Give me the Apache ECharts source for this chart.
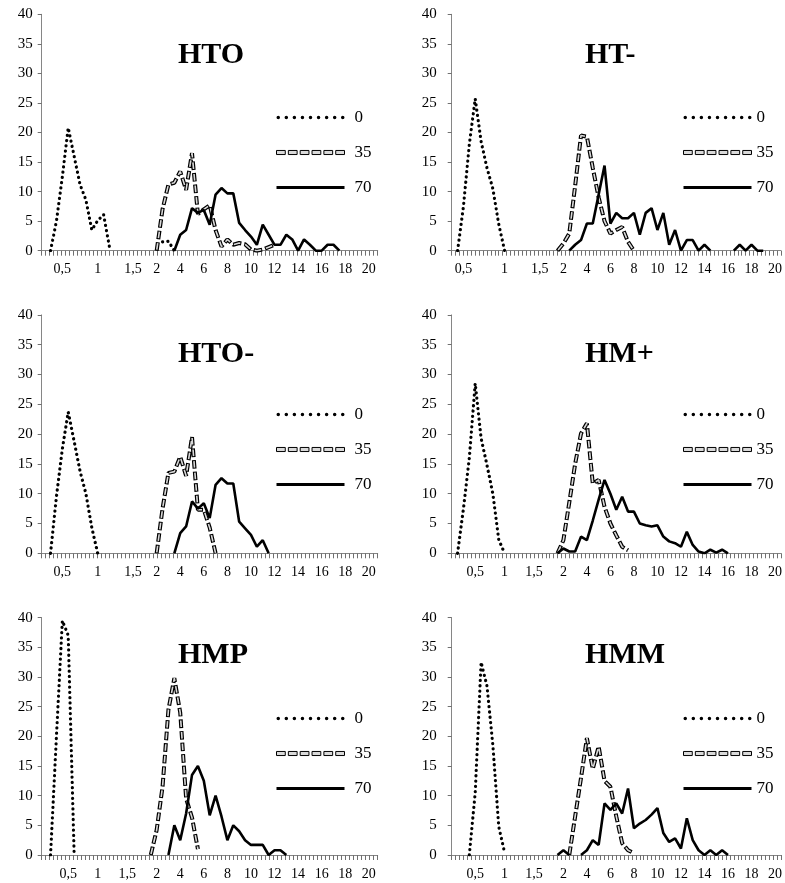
<!DOCTYPE html>
<html>
<head>
<meta charset="utf-8">
<title>HTO HT- HTO- HM+ HMP HMM</title>
<script src="https://cdn.jsdelivr.net/npm/echarts@6/dist/echarts.min.js"></script>
<style>
  html, body { margin: 0; padding: 0; background: #fff; }
  #chart { width: 785px; height: 883px; }
</style>
</head>
<body>
<div id="chart"></div>
<script>
// size classes on the x axis: 0,1 steps up to 2, then 0,5 steps
const sizes = ['0,1', '0,2', '0,3', '0,4', '0,5', '0,6', '0,7', '0,8', '0,9', '1', '1,1', '1,2', '1,3', '1,4', '1,5', '1,6', '1,7', '1,8', '1,9',
    '2', '2,5', '3', '3,5', '4', '4,5', '5', '5,5', '6', '6,5', '7', '7,5', '8', '8,5', '9', '9,5', '10', '10,5',
    '11', '11,5', '12', '12,5', '13', '13,5', '14', '14,5', '15', '15,5', '16', '16,5', '17', '17,5', '18', '18,5',
    '19', '19,5', '20', '20,5'];

const tickLabels = ['0,5', '1', '1,5', '2', '4', '6', '8', '10', '12', '14', '16', '18', '20'];
const majorTickAt = [19, 23, 27, 31, 35, 39, 43, 47, 51, 55];

// put runs of values at their category index, null elsewhere
function place(...parts) {
    const out = new Array(sizes.length).fill(null);
    for (let p = 0; p < parts.length; p += 2) {
        parts[p + 1].forEach((v, k) => (out[parts[p] + k] = v));
    }
    return out;
}

const HTO_0 = place(1, [0, 5, 12.5, 20.8, 16, 11.2, 8.6, 3.5, 5.1, 6.1, 0.6], 20, [1.5, 1.6, 0]);
const HTO_35 = place(19, [0, 7, 11.2, 11.5, 13.4, 10.3, 16.5, 6.2, 7, 7.7, 3.5, 0.7, 1.9, 1, 1.3, 1.1, 0.2, 0, 0.2, 0.6, 1]);
const HTO_70 = place(22, [0, 2.7, 3.5, 7.2, 6.4, 6.9, 4.4, 9.5, 10.6, 9.7, 9.7, 4.7, 3.5, 2.4, 1, 4.4, 2.7, 1, 1, 2.7, 1.9, 0, 1.9, 1, 0, 0, 1, 1, 0]);

const HT_0 = place(1, [0, 7.5, 18, 25.7, 18.5, 14, 10.5, 4.5, 0]);
const HT_35 = place(18, [0, 1.2, 2.9, 11, 19.5, 19.3, 14, 9, 5, 2.9, 3.5, 4, 1.5, 0]);
const HT_70 = place(20, [0, 1, 1.8, 4.6, 4.6, 9.5, 14.4, 4.6, 6.4, 5.5, 5.5, 6.4, 2.7, 6.4, 7.2, 3.5, 6.4, 1, 3.5, 0, 1.8, 1.8, 0, 1, 0], 48, [0, 1, 0, 1, 0, 0]);

const HTOm_0 = place(1, [0, 9.5, 17.5, 23.7, 18.8, 13.8, 10, 4.3, 0]);
const HTOm_35 = place(19, [0, 7.5, 13.5, 13.7, 16.2, 13, 19.5, 7.3, 7.3, 4.3, 0]);
const HTOm_70 = place(22, [0, 3.4, 4.5, 8.7, 7.5, 8.4, 5.9, 11.5, 12.6, 11.7, 11.7, 5.3, 4.2, 3.1, 1.1, 2.2, 0]);

const HMp_0 = place(1, [0, 7.5, 16, 28.5, 19.3, 14.8, 10, 2.3, 0]);
const HMp_35 = place(18, [0, 2.2, 8.5, 15, 20.1, 21.8, 11.7, 12.3, 7.8, 5, 3, 1.1, 0.5]);
const HMp_70 = place(18, [0, 0.8, 0.3, 0.3, 2.8, 2.2, 5.5, 9, 12.3, 10, 7.3, 9.5, 7, 7, 5, 4.7, 4.5, 4.7, 2.8, 2, 1.7, 1.1, 3.6, 1.4, 0.3, 0, 0.6, 0.1, 0.6, 0]);

const HMP_0 = place(1, [0, 20, 39.5, 37, 0.3]);
const HMP_35 = place(18, [0, 4.2, 11.5, 24.5, 29.8, 24, 9.5, 6.3, 1]);
const HMP_70 = place(21, [0, 5, 2.5, 7, 13.5, 15, 12.5, 6.7, 10, 6.5, 2.5, 5, 4, 2.5, 1.7, 1.7, 1.7, 0, 0.8, 0.8, 0]);

const HMM_0 = place(3, [0, 10.5, 32.5, 28.5, 18.5, 4.8, 0.4]);
const HMM_35 = place(20, [0, 6.5, 13, 19.7, 14.5, 18.3, 12.5, 11.5, 6.5, 2, 0.8, 0.3]);
const HMM_70 = place(18, [0, 0.8, 0], 22, [0, 0.8, 2.5, 1.7, 8.7, 7.6, 8.7, 7, 11.2, 4.5, 5.3, 5.9, 6.8, 7.9, 3.7, 2.2, 2.8, 1.1, 6.2, 2.5, 0.8, 0, 0.8, 0, 0.8, 0]);

const panels = [
    { title: 'HTO', d0: HTO_0, d35: HTO_35, d70: HTO_70, fineTicks: [3, 9, 15] },
    { title: 'HT-', d0: HT_0, d35: HT_35, d70: HT_70, fineTicks: [2, 9, 15] },
    { title: 'HTO-', d0: HTOm_0, d35: HTOm_35, d70: HTOm_70, fineTicks: [3, 9, 15] },
    { title: 'HM+', d0: HMp_0, d35: HMp_35, d70: HMp_70, fineTicks: [4, 9, 14] },
    { title: 'HMP', d0: HMP_0, d35: HMP_35, d70: HMP_70, fineTicks: [4, 9, 14] },
    { title: 'HMM', d0: HMM_0, d35: HMM_35, d70: HMM_70, fineTicks: [4, 9, 14] },
];

const cols = [
    { left: 41.7, width: 336, boundaryGap: true, legendLeft: 276, legendText: 5, titleLeft: 178, yMargin: 9 },
    { left: 451.7, width: 331, boundaryGap: false, legendLeft: 683, legendText: 0, titleLeft: 585, yMargin: 15 },
];
const rows = [
    { top: 14.3, height: 236.4, titleTop: 40, legendTop: 109 },
    { top: 314.9, height: 238.4, titleTop: 339, legendTop: 406 },
    { top: 617.7, height: 237.3, titleTop: 640, legendTop: 710 },
];

// the tick comb under each plot is finer than the size classes
const RULER_STEPS = 84;
const ruler = [];
for (let i = 0; i <= RULER_STEPS; i++) ruler.push('t' + i);

const FONT = 'Liberation Serif';
const AXIS_GREY = '#868686';

const dotted = { color: '#000', width: 3.2, type: [0.1, 5.2], cap: 'round' };
const dashOuter = { color: '#000', width: 4, type: [8.6, 3] };
const dashInner = { color: '#d9d9d9', width: 1.6, type: [6.6, 5], dashOffset: -1 };
const solid = { color: '#000', width: 2.6 };

// legend samples
function dotsIcon(n, step, r) {
    let d = '';
    for (let k = 0; k < n; k++) {
        const cx = r + k * step;
        d += 'M' + (cx - r) + ' ' + r + 'a' + r + ' ' + r + ' 0 1 0 ' + 2 * r + ' 0a' + r + ' ' + r + ' 0 1 0 ' + -2 * r + ' 0Z';
    }
    return 'path://' + d;
}
function dashIcon(n, step, w, h) {
    let d = '';
    for (let k = 0; k < n; k++) {
        d += 'M' + k * step + ' 0h' + w + 'v' + h + 'h' + -w + 'Z';
    }
    return 'path://' + d;
}

const chart = echarts.init(document.getElementById('chart'));

const option = {
    animation: false,
    backgroundColor: '#fff',
    color: ['#000'],
    title: [],
    grid: [],
    xAxis: [],
    yAxis: [],
    legend: [],
    series: [],
};

panels.forEach((p, k) => {
    const c = cols[k % 2];
    const r = rows[Math.floor(k / 2)];
    const labelAt = {};
    p.fineTicks.concat(majorTickAt).forEach((idx, j) => (labelAt[idx] = tickLabels[j]));

    option.title.push({
        text: p.title,
        left: c.titleLeft,
        top: r.titleTop,
        padding: 0,
        textStyle: { fontFamily: FONT, fontSize: 30, fontWeight: 'bold', color: '#000' },
    });
    option.grid.push({ left: c.left, top: r.top, width: c.width, height: r.height });
    option.xAxis.push({
        type: 'category',
        gridIndex: k,
        data: sizes,
        boundaryGap: c.boundaryGap,
        axisLine: { lineStyle: { color: AXIS_GREY, width: 1 } },
        axisTick: { show: false },
        axisLabel: {
            interval: 0,
            formatter: (v, i) => labelAt[i] || '',
            fontFamily: FONT,
            fontSize: 14,
            color: '#000',
            margin: 12,
        },
        splitLine: { show: false },
    });
    option.yAxis.push({
        type: 'value',
        gridIndex: k,
        min: 0,
        max: 40,
        interval: 5,
        axisLine: { show: true, lineStyle: { color: AXIS_GREY, width: 1 } },
        axisTick: { show: true, length: 4, lineStyle: { color: '#707070', width: 1 } },
        splitLine: { show: false },
        axisLabel: { fontFamily: FONT, fontSize: 15, color: '#000', margin: c.yMargin },
    });
    option.legend.push({
        orient: 'vertical',
        left: c.legendLeft,
        top: r.legendTop,
        padding: 0,
        itemWidth: 68,
        itemHeight: 5,
        itemGap: 18,
        symbolKeepAspect: true,
        selectedMode: false,
        textStyle: { fontFamily: FONT, fontSize: 17, color: '#000', padding: [0, 0, 0, c.legendText] },
        data: [
            { name: '0', icon: dotsIcon(9, 8.05, 1.75), itemStyle: { color: '#000' } },
            { name: '35', icon: dashIcon(6, 11.6, 8.6, 4), itemStyle: { color: '#d9d9d9', borderColor: '#000', borderWidth: 1 } },
            { name: '70', icon: 'path://M0 0h68v3h-68Z', itemStyle: { color: '#000' } },
        ],
    });

    const base = { type: 'line', xAxisIndex: k, yAxisIndex: k, symbol: 'none', silent: true, itemStyle: { color: '#000' } };
    option.series.push(
        { ...base, name: '0', data: p.d0, lineStyle: dotted },
        { ...base, name: '35', data: p.d35, lineStyle: dashOuter },
        { ...base, name: '35', data: p.d35, lineStyle: dashInner },
        { ...base, name: '70', data: p.d70, lineStyle: solid },
    );
});

// tick-only axes, one per plot, on the same baseline (ticks hang below it)
panels.forEach((p, k) => {
    option.xAxis.push({
        type: 'category',
        gridIndex: k,
        position: 'bottom',
        data: ruler,
        boundaryGap: false,
        axisLine: { show: false },
        axisLabel: { show: false },
        axisTick: { show: true, interval: 0, inside: false, length: 5, lineStyle: { color: '#707070', width: 1 } },
        splitLine: { show: false },
    });
    // an empty series keeps the tick axis in its grid
    option.series.push({ type: 'line', xAxisIndex: panels.length + k, yAxisIndex: k, data: [], silent: true });
});

chart.setOption(option);
</script>
</body>
</html>
